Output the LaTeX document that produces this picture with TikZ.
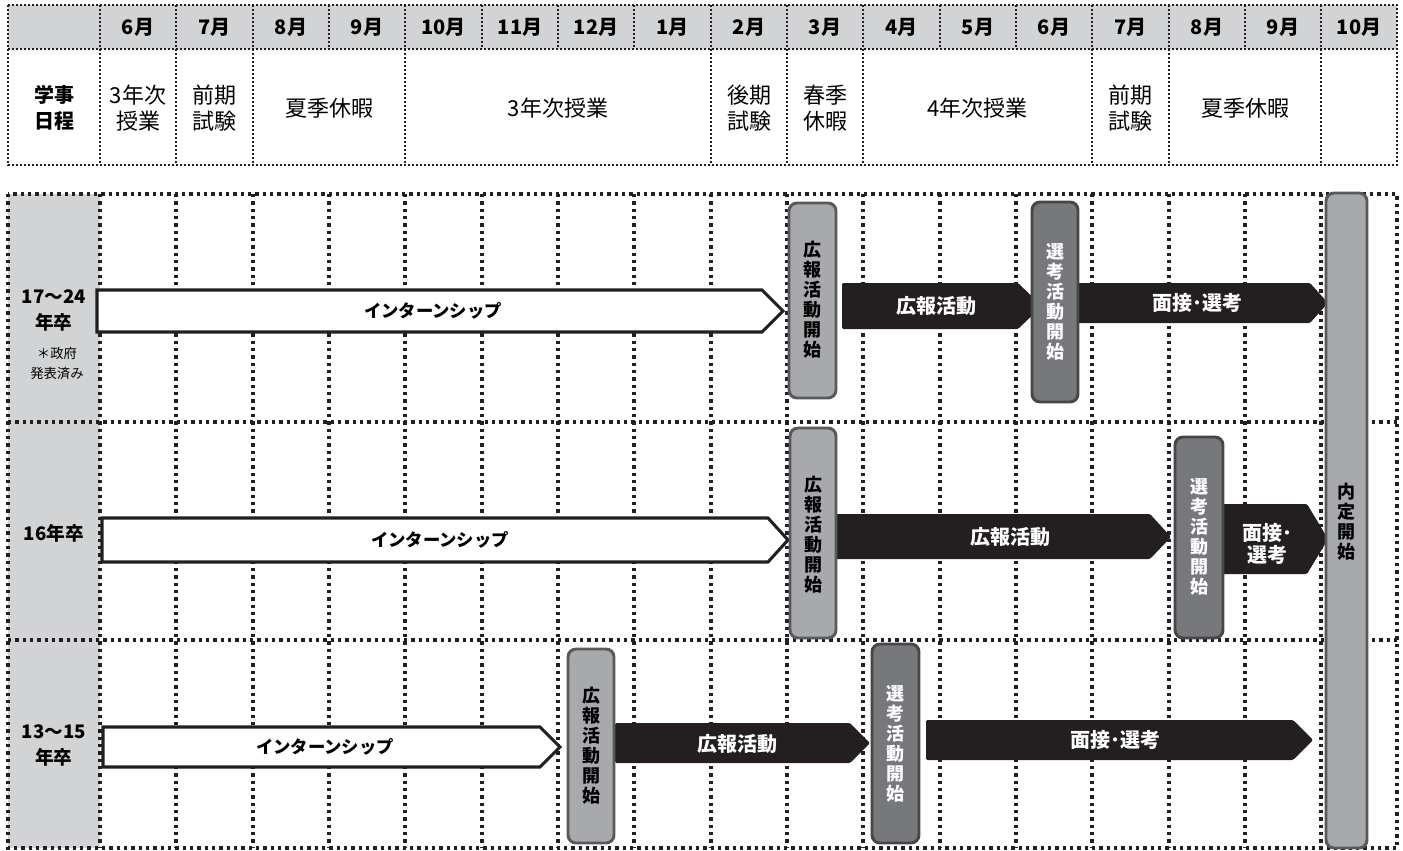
\documentclass[tikz,border=0pt]{standalone}
\usepackage{fontspec}
\setmainfont{Noto Sans CJK JP}

\definecolor{hdrgray}{RGB}{209,211,212}
\definecolor{lightbox}{RGB}{167,169,172}
\definecolor{lightedge}{RGB}{88,89,91}
\definecolor{darkbox}{RGB}{119,120,123}
\definecolor{darkedge}{RGB}{70,70,72}
\definecolor{barblack}{RGB}{35,31,32}

\tikzset{every picture/.style={line width=0.75pt}}
\tikzset{
  hdrdot/.style={draw=barblack, line width=1.4pt, dash pattern=on 1.4pt off 1.6pt},
  griddot/.style={draw=barblack, line width=2.5pt, dash pattern=on 2.5pt off 3pt},
  startbox/.style={fill=lightbox, draw=lightedge, line width=2.2pt, rounded corners=6pt},
  selectbox/.style={fill=darkbox, draw=darkedge, line width=2.2pt, rounded corners=6pt},
  internarrow/.style={fill=white, draw=barblack, line width=2.3pt, line join=miter},
  blackarrow/.style={fill=barblack, rounded corners=1pt},
  monthlbl/.style={font=\bfseries\fontsize{15}{17}\selectfont},
  hdrtext/.style={align=center, font=\fontsize{16.5}{19}\selectfont},
  rowlbl/.style={align=center, font=\bfseries\fontsize{14}{19.5}\selectfont},
  notelbl/.style={align=center, font=\fontsize{10}{15}\selectfont},
  interntext/.style={font=\bfseries\fontsize{13}{15}\selectfont},
  whitetext/.style={align=center, text=white, font=\bfseries\fontsize{15}{16.5}\selectfont},
  vtext/.style={align=center, font=\bfseries\fontsize{13.5}{15}\selectfont}
}

\begin{document}
\begin{tikzpicture}[x=0.75pt,y=0.75pt,yscale=-1,xscale=1]
\useasboundingbox (0,0) rectangle (1403,850);

%Shape: Rectangle [id:hdr_fill] 
\fill[hdrgray] (8,5) rectangle (1397,49);
%Shape: Rectangle [id:left_fill] 
\fill[hdrgray] (8,194) rectangle (100,848);

%Shape: Rectangle [id:hdr_frame] 
\draw[hdrdot] (8,5) rectangle (1397,165);
%Straight Lines [id:hdr_row] 
\draw[hdrdot] (8,49) -- (1397,49);
%Straight Lines [id:hdr_months] 
\draw[hdrdot] (100,5) -- (100,165) ;
\draw[hdrdot] (176,5) -- (176,165) ;
\draw[hdrdot] (253,5) -- (253,165) ;
\draw[hdrdot] (329,5) -- (329,49) ;
\draw[hdrdot] (405,5) -- (405,165) ;
\draw[hdrdot] (482,5) -- (482,49) ;
\draw[hdrdot] (558,5) -- (558,49) ;
\draw[hdrdot] (634,5) -- (634,49) ;
\draw[hdrdot] (711,5) -- (711,165) ;
\draw[hdrdot] (787,5) -- (787,165) ;
\draw[hdrdot] (863,5) -- (863,165) ;
\draw[hdrdot] (940,5) -- (940,49) ;
\draw[hdrdot] (1016,5) -- (1016,49) ;
\draw[hdrdot] (1092,5) -- (1092,165) ;
\draw[hdrdot] (1169,5) -- (1169,165) ;
\draw[hdrdot] (1245,5) -- (1245,49) ;
\draw[hdrdot] (1321,5) -- (1321,165) ;

%Shape: Rectangle [id:grid_frame] 
\draw[griddot] (8,194) rectangle (1397,848);
%Straight Lines [id:grid_rows] 
\draw[griddot] (8,422) -- (1397,422) ;
\draw[griddot] (8,640) -- (1397,640) ;
%Straight Lines [id:grid_cols] 
\draw[griddot] (100,194) -- (100,848) ;
\draw[griddot] (176,194) -- (176,848) ;
\draw[griddot] (253,194) -- (253,848) ;
\draw[griddot] (329,194) -- (329,848) ;
\draw[griddot] (405,194) -- (405,848) ;
\draw[griddot] (482,194) -- (482,848) ;
\draw[griddot] (558,194) -- (558,848) ;
\draw[griddot] (634,194) -- (634,848) ;
\draw[griddot] (711,194) -- (711,848) ;
\draw[griddot] (787,194) -- (787,848) ;
\draw[griddot] (863,194) -- (863,848) ;
\draw[griddot] (940,194) -- (940,848) ;
\draw[griddot] (1016,194) -- (1016,848) ;
\draw[griddot] (1092,194) -- (1092,848) ;
\draw[griddot] (1169,194) -- (1169,848) ;
\draw[griddot] (1245,194) -- (1245,848) ;
\draw[griddot] (1321,194) -- (1321,848) ;

%Shape: Arrow [id:r1_intern] 
\draw[internarrow] (97,290) -- (762,290) -- (783,311) -- (762,332) -- (97,332) -- cycle ;
%Shape: Arrow [id:r1_pr] 
\fill[blackarrow] (842,283) -- (1018,283) -- (1042,306) -- (1018,329) -- (842,329) -- cycle ;
%Shape: Arrow [id:r1_intv] 
\fill[blackarrow] (1078,283) -- (1310,283) -- (1328,303) -- (1310,323) -- (1078,323) -- cycle ;
%Shape: Rounded Rect [id:r1_prstart] 
\draw[startbox] (789,203) rectangle (836,398) ;
%Shape: Rounded Rect [id:r1_selstart] 
\draw[selectbox] (1032,202) rectangle (1078,402) ;

%Shape: Arrow [id:r2_intern] 
\draw[internarrow] (102,518) -- (768,518) -- (788,540) -- (768,562) -- (102,562) -- cycle ;
%Shape: Arrow [id:r2_pr] 
\fill[blackarrow] (832,514) -- (1150,514) -- (1171,537) -- (1150,559) -- (832,559) -- cycle ;
%Shape: Arrow [id:r2_intv] 
\fill[blackarrow] (1223,504) -- (1307,504) -- (1328,539) -- (1307,574) -- (1223,574) -- cycle ;
%Shape: Rounded Rect [id:r2_prstart] 
\draw[startbox] (790,428) rectangle (836,638) ;
%Shape: Rounded Rect [id:r2_selstart] 
\draw[selectbox] (1175,437) rectangle (1223,638) ;

%Shape: Arrow [id:r3_intern] 
\draw[internarrow] (103,727) -- (540,727) -- (560,747) -- (540,767) -- (103,767) -- cycle ;
%Shape: Arrow [id:r3_pr] 
\fill[blackarrow] (615,723) -- (850,723) -- (870,743) -- (850,763) -- (615,763) -- cycle ;
%Shape: Arrow [id:r3_intv] 
\fill[blackarrow] (926,720) -- (1293,720) -- (1313,740) -- (1293,760) -- (926,760) -- cycle ;
%Shape: Rounded Rect [id:r3_prstart] 
\draw[startbox] (568,649) rectangle (614,843) ;
%Shape: Rounded Rect [id:r3_selstart] 
\draw[selectbox] (872,644) rectangle (919,843) ;

%Shape: Rounded Rect [id:naitei_bar] 
\draw[startbox] (1326,193) rectangle (1367,848) ;

% Text Node
\draw (138,27) node (mJun) [monthlbl] {6月};
% Text Node
\draw (214.5,27) node (mJul) [monthlbl] {7月};
% Text Node
\draw (291,27) node (mAug) [monthlbl] {8月};
% Text Node
\draw (367,27) node (mSep) [monthlbl] {9月};
% Text Node
\draw (443.5,27) node (mOct) [monthlbl] {10月};
% Text Node
\draw (520,27) node (mNov) [monthlbl] {11月};
% Text Node
\draw (596,27) node (mDec) [monthlbl] {12月};
% Text Node
\draw (672.5,27) node (mJan) [monthlbl] {1月};
% Text Node
\draw (749,27) node (mFeb) [monthlbl] {2月};
% Text Node
\draw (825,27) node (mMar) [monthlbl] {3月};
% Text Node
\draw (901.5,27) node (mApr) [monthlbl] {4月};
% Text Node
\draw (978,27) node (mMay) [monthlbl] {5月};
% Text Node
\draw (1054,27) node (mJunB) [monthlbl] {6月};
% Text Node
\draw (1130.5,27) node (mJulB) [monthlbl] {7月};
% Text Node
\draw (1207,27) node (mAugB) [monthlbl] {8月};
% Text Node
\draw (1283,27) node (mSepB) [monthlbl] {9月};
% Text Node
\draw (1359,27) node (mOctB) [monthlbl] {10月};

% Text Node
\draw (54,108) node (schedLbl) [hdrtext, font=\bfseries\fontsize{15}{19}\selectfont] {学事\\日程};
% Text Node
\draw (138,108) node (cls3a) [hdrtext] {3年次\\授業};
% Text Node
\draw (214.5,108) node (exam1) [hdrtext] {前期\\試験};
% Text Node
\draw (329,108) node (summer1) [hdrtext] {夏季休暇};
% Text Node
\draw (558,108) node (cls3b) [hdrtext] {3年次授業};
% Text Node
\draw (749,108) node (exam2) [hdrtext] {後期\\試験};
% Text Node
\draw (825,108) node (spring) [hdrtext] {春季\\休暇};
% Text Node
\draw (977.5,108) node (cls4) [hdrtext] {4年次授業};
% Text Node
\draw (1130.5,108) node (exam3) [hdrtext] {前期\\試験};
% Text Node
\draw (1245,108) node (summer2) [hdrtext] {夏季休暇};

% Text Node
\draw (54,310) node (grad17) [rowlbl] {17〜24\\年卒};
% Text Node
\draw (57,363) node (gradNote) [notelbl] {＊政府\\発表済み};
% Text Node
\draw (54,533) node (grad16) [rowlbl] {16年卒};
% Text Node
\draw (54,745) node (grad13) [rowlbl] {13〜15\\年卒};

% Text Node
\draw (433,311) node (intern1) [interntext] {インターンシップ};
% Text Node
\draw (812.5,300) node (prStart1) [vtext] {広\\報\\活\\動\\開\\始};
% Text Node
\draw (936,306) node (pr1) [whitetext] {広報活動};
% Text Node
\draw (1055,302) node (selStart1) [vtext, text=white] {選\\考\\活\\動\\開\\始};
% Text Node
\draw (1197,303) node (intv1) [whitetext] {面接･選考};

% Text Node
\draw (440,540) node (intern2) [interntext] {インターンシップ};
% Text Node
\draw (813,535) node (prStart2) [vtext] {広\\報\\活\\動\\開\\始};
% Text Node
\draw (1010,537) node (pr2) [whitetext] {広報活動};
% Text Node
\draw (1199,537) node (selStart2) [vtext, text=white] {選\\考\\活\\動\\開\\始};
% Text Node
\draw (1267,544) node (intv2) [whitetext] {面接･\\選考};

% Text Node
\draw (325,747) node (intern3) [interntext] {インターンシップ};
% Text Node
\draw (591,746) node (prStart3) [vtext] {広\\報\\活\\動\\開\\始};
% Text Node
\draw (737,744) node (pr3) [whitetext] {広報活動};
% Text Node
\draw (895,744) node (selStart3) [vtext, text=white] {選\\考\\活\\動\\開\\始};
% Text Node
\draw (1115,740) node (intv3) [whitetext] {面接･選考};

% Text Node
\draw (1346,522) node (naitei) [vtext] {内\\定\\開\\始};

\end{tikzpicture}
\end{document}
